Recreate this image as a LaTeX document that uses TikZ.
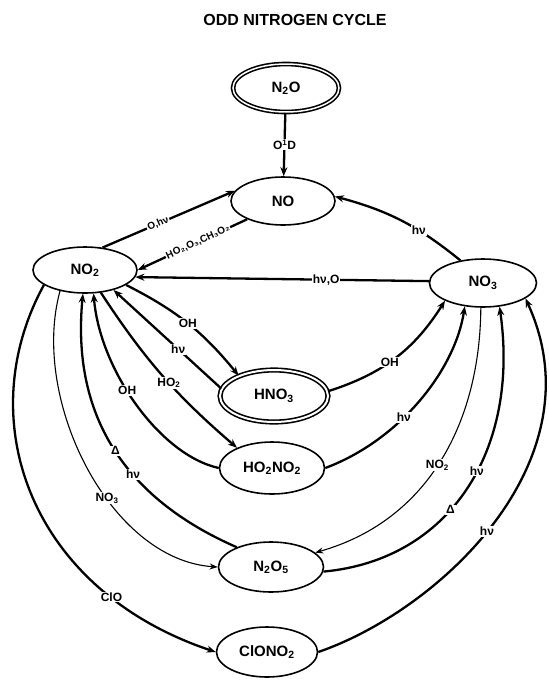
\documentclass[tikz,border=0pt]{standalone}
\usepackage{fontspec}
\setmainfont{Liberation Sans}
\usetikzlibrary{shapes.geometric, arrows.meta}
\tikzset{
  species/.style={ellipse, draw, line width=1.6pt, inner sep=0pt,
    minimum width=104pt, minimum height=48pt,
    font=\bfseries\fontsize{15}{15}\selectfont},
  flow/.style={-{Stealth[length=9pt,width=7pt]}, line width=2.3pt},
  thinflow/.style={-{Stealth[length=8pt,width=6pt]}, line width=1.1pt},
  rlabel/.style={fill=white, inner sep=1pt, font=\bfseries\fontsize{12}{12}\selectfont},
  smalllabel/.style={rlabel, font=\bfseries\fontsize{10}{10}\selectfont}
}

\begin{document}
\begin{tikzpicture}[x=1pt, y=-1pt]
  \useasboundingbox (0,0) rectangle (549,681);

  % Title
  \node[font=\bfseries\fontsize{16}{16}\selectfont] (title) at (295,20) {ODD NITROGEN CYCLE};

  % Species
  \node[species, double, double distance=1.5pt, minimum width=106pt] (n2o) at (286,88) {N\textsubscript{2}O};
  \node[species] (no) at (283,201) {NO};
  \node[species, minimum height=46pt] (no2) at (85,270) {NO\textsubscript{2}};
  \node[species, minimum width=107pt] (no3) at (483,283) {NO\textsubscript{3}};
  \node[species, double, double distance=2pt, minimum width=108pt, minimum height=52pt] (hno3) at (274,396) {HNO\textsubscript{3}};
  \node[species, minimum width=105pt, minimum height=52pt] (ho2no2) at (272,468) {HO\textsubscript{2}NO\textsubscript{2}};
  \node[species, minimum width=105pt, minimum height=50pt] (n2o5) at (271,567) {N\textsubscript{2}O\textsubscript{5}};
  \node[species, minimum width=101pt, minimum height=50pt] (clono2) at (267,652) {ClONO\textsubscript{2}};

  % Source and the NO / NO2 / NO3 exchange
  \draw[flow] (n2o) -- node[rlabel] {O\textsuperscript{1}D} (no);
  \draw[flow] (no2.52) -- node[smalllabel, sloped, pos=.42] {O,hν} (no.168);
  \draw[flow] (no.207) -- node[smalllabel, sloped, pos=.45] {HO₂,O₃,CH₃O₂} (no2.0);
  \draw[flow] (no3.135) to[bend right=12] node[rlabel, pos=.35] {hν} (no.5);
  \draw[flow] (no3.178) -- node[rlabel, pos=.35] {hν,O} (no2.352);

  % Reservoirs on the NO2 side
  \draw[flow] (no2.340) to[bend left=12] node[rlabel] {OH} (hno3.150);
  \draw[flow] (hno3.172) -- node[rlabel, pos=.4] {hν} (no2.325);
  \draw[flow] (ho2no2.180) .. controls (160,455) and (100,370) .. (no2.290) node[rlabel, pos=.57] {OH};
  \draw[flow] (no2.305) to[bend right=8] node[rlabel, pos=.55] {HO\textsubscript{2}} (ho2no2.150);
  \draw[flow] (n2o5.150) .. controls (140,505) and (70,430) .. (no2.265) node[rlabel, pos=.52] {Δ} node[rlabel, pos=.42] {hν};
  \draw[thinflow] (no2.220) .. controls (30,400) and (110,560) .. (n2o5.180) node[rlabel, pos=.6] {NO\textsubscript{3}};
  \draw[flow] (no2.200) .. controls (-30,420) and (30,590) .. (clono2.180) node[rlabel, pos=.78] {ClO};

  % Reservoirs on the NO3 side
  \draw[flow] (hno3.5) to[bend right=20] node[rlabel, pos=.45] {OH} (no3.205);
  \draw[flow] (ho2no2.0) .. controls (400,440) and (455,370) .. (no3.232) node[rlabel, pos=.4] {hν};
  \draw[thinflow] (no3.265) .. controls (480,420) and (430,520) .. (n2o5.18) node[rlabel, pos=.52] {NO\textsubscript{2}};
  \draw[flow] (n2o5.355) .. controls (450,560) and (520,450) .. (no3.305) node[rlabel, pos=.42] {Δ} node[rlabel, pos=.56] {hν};
  \draw[flow] (clono2.0) .. controls (440,610) and (600,460) .. (no3.340) node[rlabel, pos=.47] {hν};
\end{tikzpicture}
\end{document}
